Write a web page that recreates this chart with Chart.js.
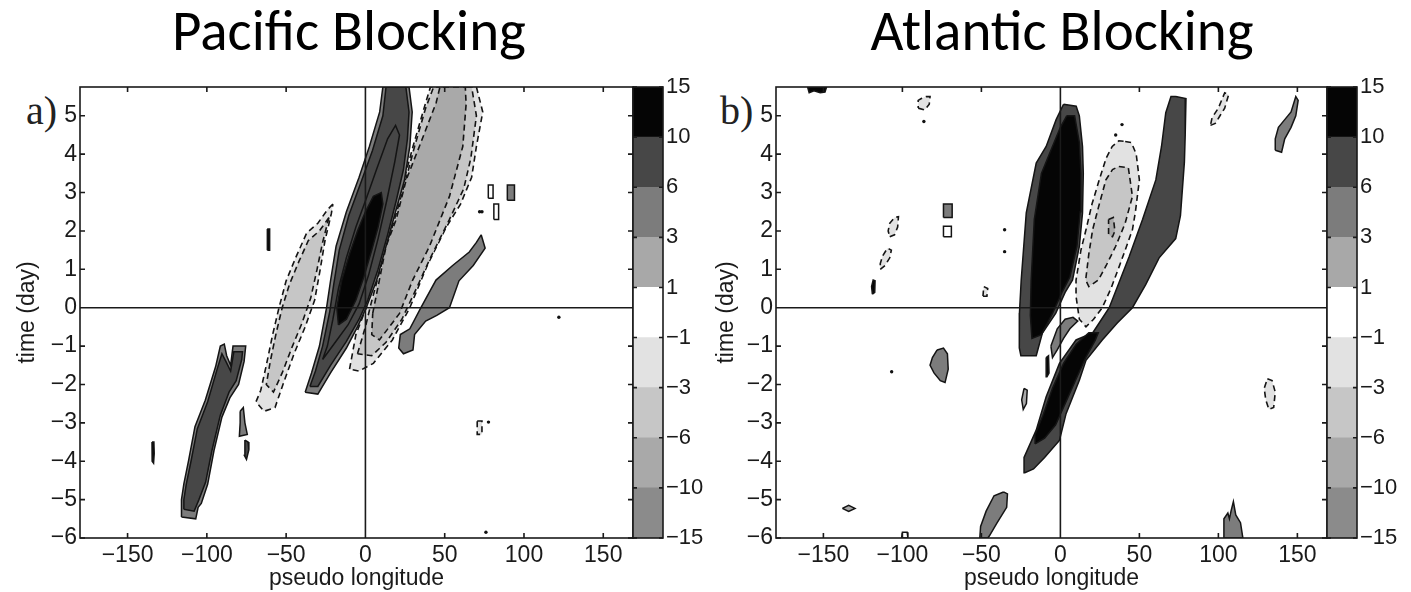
<!DOCTYPE html>
<html>
<head>
<meta charset="utf-8">
<script src="https://cdn.jsdelivr.net/npm/chart.js@4.4.1/dist/chart.umd.min.js"></script>
<style>
  body { margin: 0; width: 1411px; height: 592px; background: #fff; position: relative; overflow: hidden; }
  canvas { position: absolute; top: 0; }
  .title { position: absolute; top: 2px; font-family: Carlito, Lato, sans-serif; font-size: 57px; line-height: 1; text-align: center; color: #000; }
  .tag { position: absolute; top: 91px; font-family: "Liberation Serif", serif; font-size: 40px; line-height: 1; color: #222; }
</style>
</head>
<body>
<div class="title" style="left:0;width:698px">Pacific Blocking</div>
<div class="title" style="left:714px;width:696px">Atlantic Blocking</div>
<div class="tag" style="left:26px">a)</div>
<div class="tag" style="left:720px">b)</div>
<canvas id="pac" width="640" height="592" style="left:0"></canvas>
<canvas id="pacBar" width="80" height="592" style="left:627px"></canvas>
<canvas id="atl" width="638" height="592" style="left:696px"></canvas>
<canvas id="atlBar" width="90" height="592" style="left:1321px"></canvas>
<script>
// contour levels on the colour bars, bottom to top
const cbLevels = [-15, -10, -6, -3, -1, 1, 3, 6, 10, 15];
const bandColors = ['#8b8b8b', '#a9a9a9', '#c6c6c6', '#e2e2e2', '#ffffff', '#a8a8a8', '#7c7c7c', '#474747', '#050505'];
const xTicks = [-150, -100, -50, 0, 50, 100, 150];
const yTicks = [-6, -5, -4, -3, -2, -1, 0, 1, 2, 3, 4, 5];
const lonRange = [-180, 168.75];
const dayRange = [-6, 5.75];

// ---- Pacific composite: contour outlines as [pseudo longitude, day]
const pacWestRim = [[-116,-5.45],[-107,-5.5],[-105.5,-5.2],[-103.5,-5.1],[-99.5,-4.6],[-95.5,-3.72],[-90.5,-2.85],[-85.5,-2.35],[-80,-2.0],[-76.5,-1.4],[-75.5,-1.0],[-83.5,-1.0],[-85,-1.5],[-87.5,-1.25],[-89,-0.95],[-91.5,-1.0],[-94.5,-1.54],[-101,-2.41],[-107.5,-3.1],[-111.5,-3.98],[-114.5,-4.59],[-116,-5.0]];
const pacWestBand = [[-114.5,-5.25],[-108,-5.3],[-105,-5.0],[-100.8,-4.55],[-96.8,-3.72],[-91.5,-2.8],[-86,-2.2],[-81.5,-1.9],[-78,-1.35],[-77.5,-1.15],[-83,-1.15],[-85,-1.65],[-88,-1.4],[-90.5,-1.2],[-93.5,-1.6],[-99.5,-2.45],[-106,-3.15],[-110,-4.0],[-113,-4.6],[-114.5,-5.0]];
const pacNegWestOuter = [[-20.5,2.7],[-24,2.55],[-30,2.2],[-37,1.95],[-44,1.3],[-50,0.7],[-54.5,0],[-58.5,-0.7],[-62.5,-1.5],[-66,-2.15],[-69,-2.45],[-64,-2.7],[-57,-2.6],[-52,-2.0],[-45,-1.2],[-38,-0.5],[-32,0.2],[-28.5,1.0],[-25.5,1.75],[-21.5,2.45]];
const pacNegWestInner = [[-23,2.35],[-29,2.0],[-36,1.75],[-42,1.2],[-48,0.6],[-52.5,0],[-56.5,-0.7],[-60,-1.4],[-62.5,-2.0],[-58,-2.2],[-52.5,-1.7],[-46,-1.0],[-40,-0.4],[-34.5,0.25],[-30.5,1.0],[-27,1.7]];
const pacMainRim = [[-38,-2.2],[-30,-2.25],[-22,-1.7],[-12,-1.05],[-5,-0.5],[0.5,0],[7,0.7],[13,1.6],[19,2.5],[24.5,3.3],[28,4.2],[29.5,5.1],[27.5,5.75],[11,5.75],[9,5.1],[2.5,4.2],[-4,3.4],[-12,2.5],[-18.5,1.6],[-22,0.7],[-24.5,0],[-29,-1.0],[-34,-1.7]];
const pacMainOuter = [[-35,-2.05],[-30,-2.05],[-22,-1.5],[-12,-0.88],[-4,-0.3],[1.5,0.2],[8,1.0],[14,1.9],[19.5,2.8],[24,3.6],[26.5,4.4],[27.5,5.1],[25.5,5.75],[13,5.75],[11,5.0],[4.5,4.1],[-2.5,3.3],[-10.5,2.4],[-16.5,1.5],[-20,0.6],[-22.5,-0.1],[-27,-1.0],[-31.5,-1.65]];
const pacMainInner = [[-27,-1.35],[-19,-0.9],[-11,-0.45],[-4,0.1],[2,0.85],[8,1.8],[13.5,2.8],[18.5,3.8],[21.5,4.5],[19,4.75],[14,4.4],[7,3.6],[1,2.9],[-6,2.1],[-12,1.3],[-17,0.5],[-20.5,-0.3],[-24,-1.0]];
const pacMainCore = [[-17,-0.45],[-12,-0.3],[-6,0.2],[-1,0.8],[4,1.5],[8,2.1],[11,2.7],[10,3.0],[5,2.9],[0,2.5],[-5,2.0],[-10,1.4],[-15,0.7],[-18,0]];
const pacNegEastOuter = [[-10,-1.6],[-6,-0.7],[0.5,0],[4.6,0.72],[11,1.6],[21.5,2.9],[30,4.2],[37,5.2],[41,5.75],[70,5.75],[74,5.1],[70,4.2],[67,3.4],[60,2.7],[51,2.1],[39,1.1],[28,0],[17,-0.84],[5,-1.45],[-4,-1.65]];
const pacNegEastMid = [[-5,-1.2],[0,-0.5],[3.5,0.1],[8,0.8],[14,1.7],[23,2.95],[31,4.2],[38,5.2],[43,5.75],[67,5.75],[70,5.0],[66.5,3.9],[62,3.1],[53,2.3],[41,1.3],[31,0.4],[23,-0.3],[13,-0.9],[4,-1.25]];
const pacNegEastInner = [[4.6,-0.15],[8.8,0.72],[13,1.6],[19.4,2.3],[25.7,3.33],[34,4.2],[44.6,5.34],[47,5.75],[63,5.75],[63.5,5.3],[61.4,4.2],[53,2.9],[40.4,1.6],[29.8,0.72],[21.5,-0.15],[8.8,-0.84],[4,-0.7]];
const pacPosEast = [[73,1.9],[75.5,1.55],[68,1.1],[59,0.7],[53,0],[45,-0.2],[38,-0.35],[31,-0.7],[30,-1.1],[24,-1.2],[21,-1.05],[22,-0.7],[28,-0.55],[35,0],[44.5,0.72],[55,1.1],[65.5,1.45],[70,1.7]];
const pacSpotA = [[-61.8,1.5],[-60.4,1.5],[-60.2,1.8],[-60.6,2.05],[-61.5,2.05],[-61.9,1.8]];
const pacSpotB = [[-134.6,-3.5],[-133.4,-3.5],[-133.2,-3.8],[-133.6,-4.05],[-134.5,-4.0]];
const pacSpotC = [[-79,-2.7],[-77,-2.6],[-76,-3.0],[-74.5,-3.3],[-79.5,-3.35],[-79,-3.0]];
const pacSpotD = [[-76,-3.45],[-74,-3.5],[-73.5,-3.7],[-75,-3.95],[-76.3,-3.85]];
const pacRingA = [[77.5,2.85],[80.5,2.85],[80.5,3.2],[77.5,3.2]];
const pacRingB = [[81,2.3],[84,2.3],[84,2.7],[81,2.7]];
const pacBox = [[89.5,2.8],[94,2.8],[94,3.2],[89.5,3.2]];
const pacNegSpot = [[70.5,-2.95],[73.5,-2.95],[73.5,-3.3],[70.5,-3.3]];
const pacDots = [[72,2.5],[73.5,2.5],[122,-0.25],[77.6,-2.98],[76,-5.85]];

// ---- Atlantic composite
const atlBlackRim = [[2,5.3],[-2.7,4.9],[-9,4.2],[-15.3,3.77],[-21.6,2.47],[-24.8,0.72],[-25.9,-0.14],[-26,-1.05],[-25,-1.25],[-15.3,-1.25],[-11.4,-0.66],[-3,-0.15],[3,0.4],[7.7,0.72],[12,1.6],[14,2.47],[14.5,3.5],[14,4.2],[12,5.0],[10,5.25]];
const atlBlackCore = [[4,5.0],[0,4.7],[-6,4.1],[-12,3.5],[-16.5,2.3],[-18.5,0.7],[-19,-0.2],[-18,-0.8],[-12,-0.7],[-5,-0.15],[1,0.4],[6,0.8],[10.5,1.6],[12.5,2.5],[13,3.5],[12,4.3],[9,5.0]];
const atlNegOuter = [[41,4.33],[45,4.3],[48,4.0],[50,3.33],[47.5,2.5],[45.6,2.03],[41,1.5],[37.2,1.07],[32,0.5],[26.5,0],[21,-0.3],[16.2,-0.5],[12,-0.3],[9.9,0.3],[9.9,0.72],[13,1.5],[16.2,2.03],[20,2.7],[24.6,3.33],[29,3.9],[32.8,4.2],[37,4.35]];
const atlNegMid = [[37,3.68],[43,3.65],[45.6,2.9],[41,2.2],[35,1.6],[29,1.1],[24,0.72],[18,0.55],[16,0.72],[18,1.4],[20.4,2.03],[24,2.6],[28.8,3.33],[33,3.6]];
const atlNegInner = [[30.5,2.3],[33.5,2.35],[34.5,2.0],[33,1.85],[30.5,1.9]];
const atlPosMid = [[-6,-1.0],[-2,-0.55],[3,-0.3],[8,-0.25],[11,-0.35],[6,-0.55],[2,-0.8],[-2,-1.1],[-5,-1.3]];
const atlBandRim = [[73,5.5],[79.5,5.45],[79,4.5],[78.5,3.8],[76,2.4],[73,1.8],[62.5,1.3],[54,0.6],[45.6,0],[36,-0.4],[26.5,-0.84],[16.2,-1.37],[12,-1.89],[3.6,-2.76],[-0.6,-3.46],[-10,-3.9],[-17,-4.2],[-22.5,-4.3],[-23,-3.9],[-15.3,-3.19],[-9,-2.32],[-0.6,-1.45],[9.9,-0.84],[20.4,-0.66],[30.9,0],[43.5,1.33],[52,2.3],[60.4,3.33],[64,4.2],[66.7,5.08],[70,5.5]];
const atlBandCore = [[-16,-3.55],[-10,-3.4],[-3,-3.05],[3,-2.5],[10,-1.85],[16,-1.3],[22,-0.85],[24,-0.65],[18,-0.65],[10,-0.95],[2,-1.45],[-5,-2.1],[-11,-2.8],[-16,-3.3]];
const atlTopLeft = [[-160,5.75],[-148,5.75],[-149,5.62],[-152,5.6],[-156,5.65],[-159,5.6]];
const atlNegA = [[-90,5.2],[-86,5.15],[-83,5.3],[-82.5,5.5],[-85,5.5],[-88,5.45],[-90,5.4]];
const atlNegB = [[-108,1.85],[-105,1.9],[-103,2.1],[-102.5,2.37],[-105,2.35],[-108,2.2],[-109,2.0]];
const atlNegC = [[-114,1.0],[-111,1.1],[-108,1.3],[-107,1.5],[-109.5,1.55],[-112.5,1.35],[-114,1.15]];
const atlSpotA = [[-119,0.35],[-117.5,0.4],[-117.3,0.7],[-118.5,0.72],[-119.5,0.55]];
const atlBoxA = [[-74,2.35],[-68.5,2.35],[-68.5,2.7],[-74,2.7]];
const atlBoxB = [[-74,1.85],[-69,1.85],[-69,2.12],[-74,2.12]];
const atlNegD = [[-49,0.3],[-46.5,0.3],[-46,0.5],[-48.5,0.55]];
const atlPatchA = [[-78,-1.1],[-74,-1.05],[-71.5,-1.2],[-71,-1.6],[-73,-1.95],[-76,-1.9],[-80,-1.7],[-82.5,-1.5],[-81,-1.3]];
const atlPatchB = [[-23,-2.1],[-21,-2.15],[-21.5,-2.5],[-23.5,-2.65],[-24.5,-2.4]];
const atlPatchC = [[-36,-4.8],[-33.5,-4.85],[-34,-5.2],[-40,-5.6],[-45,-5.95],[-46,-6],[-51,-6],[-50.5,-5.7],[-47,-5.3],[-42,-4.9]];
const atlPatchD = [[-138,-5.23],[-134,-5.15],[-130,-5.23],[-134,-5.31]];
const atlPatchE = [[-100.5,-6],[-100,-5.85],[-97,-5.85],[-96.5,-6]];
const atlSpotB = [[-9,-1.3],[-7.5,-1.25],[-7.2,-1.7],[-8.5,-1.8]];
const atlNegE = [[95,4.75],[98,4.8],[101,5.0],[104,5.2],[106.5,5.55],[104,5.6],[100,5.2],[96,4.95]];
const atlPatchF = [[136,4.1],[140,4.05],[142,4.4],[146,4.7],[149,5.0],[150.5,5.4],[149,5.5],[146,5.1],[142,4.9],[138,4.7],[136,4.4]];
const atlNegF = [[131,-1.85],[134,-1.9],[136,-2.2],[135,-2.6],[132,-2.65],[130,-2.4],[129,-2.1]];
const atlPatchG = [[103,-6],[103.5,-5.5],[106,-5.35],[107,-5.5],[108,-5.3],[109.5,-5.05],[111,-5.4],[114,-5.6],[115.5,-6]];
const atlDots = [[-86.4,4.85],[-35.3,2.03],[-35.3,1.46],[-106.8,-1.67],[39,4.77],[35,4.5]];

// [outline, contour level]; later entries sit on top
const pacShapes = [
  [pacWestRim, 3], [pacWestBand, 6],
  [pacNegWestOuter, -1], [pacNegWestInner, -3],
  [pacNegEastOuter, -1], [pacNegEastMid, -3], [pacNegEastInner, -6],
  [pacMainRim, 3], [pacMainOuter, 6], [pacMainInner, 6], [pacMainCore, 10],
  [pacPosEast, 3],
  [pacSpotA, 10], [pacSpotB, 10], [pacSpotC, 3], [pacSpotD, 6],
  [pacRingA, 0], [pacRingB, 0], [pacBox, 3], [pacNegSpot, -1]
];
const atlShapes = [
  [atlBandRim, 6], [atlBandCore, 10],
  [atlBlackRim, 6], [atlBlackCore, 10],
  [atlNegOuter, -1], [atlNegMid, -3], [atlNegInner, -6],
  [atlPosMid, 3],
  [atlTopLeft, 10], [atlNegA, -1], [atlNegB, -1], [atlNegC, -1], [atlSpotA, 10],
  [atlBoxA, 3], [atlBoxB, 0], [atlNegD, -1], [atlPatchA, 3], [atlPatchB, 1],
  [atlPatchC, 3], [atlPatchD, 1], [atlPatchE, 0], [atlSpotB, 10],
  [atlNegE, -1], [atlPatchF, 3], [atlNegF, -1], [atlPatchG, 3]
];

Chart.defaults.font.family = "'Liberation Sans', Arial, sans-serif";
Chart.defaults.color = '#1a1a1a';

const fmt = v => (v < 0 ? '\u2212' + Math.abs(v) : String(v));

// fill colour of the band enclosed by a contour (0 = outline only)
function levelColor(level) {
  if (level === 0) return bandColors[4];
  const i = cbLevels.indexOf(level);
  return bandColors[level > 0 ? i : i - 1];
}

// box, zero lines and inward ticks, matlab style
const frame = {
  id: 'frame',
  afterDatasetsDraw(chart) {
    const { ctx, chartArea: a, scales: { x, y } } = chart;
    ctx.save();
    ctx.strokeStyle = '#1a1a1a';
    ctx.lineWidth = 1.6;
    const x0 = x.getPixelForValue(0), y0 = y.getPixelForValue(0);
    ctx.beginPath();
    ctx.moveTo(a.left, y0); ctx.lineTo(a.right, y0);
    ctx.moveTo(x0, a.top); ctx.lineTo(x0, a.bottom);
    x.ticks.forEach(t => {
      const p = x.getPixelForValue(t.value);
      ctx.moveTo(p, a.bottom); ctx.lineTo(p, a.bottom - 5);
      ctx.moveTo(p, a.top); ctx.lineTo(p, a.top + 5);
    });
    y.ticks.forEach(t => {
      const p = y.getPixelForValue(t.value);
      ctx.moveTo(a.left, p); ctx.lineTo(a.left + 5, p);
      ctx.moveTo(a.right, p); ctx.lineTo(a.right - 5, p);
    });
    ctx.stroke();
    ctx.strokeRect(a.left, a.top, a.width, a.height);
    ctx.restore();
  }
};

const barFrame = {
  id: 'barFrame',
  afterDatasetsDraw(chart) {
    const { ctx, chartArea: a, scales: { y } } = chart;
    ctx.save();
    ctx.strokeStyle = '#1a1a1a';
    ctx.lineWidth = 1.6;
    ctx.beginPath();
    y.ticks.forEach(t => {
      const p = y.getPixelForValue(t.value);
      ctx.moveTo(a.left, p); ctx.lineTo(a.left + 4, p);
      ctx.moveTo(a.right, p); ctx.lineTo(a.right - 4, p);
    });
    ctx.stroke();
    ctx.strokeRect(a.left, a.top, a.width, a.height);
    ctx.restore();
  }
};

function contourChart(id, shapes, dots, titlePad) {
  const n = shapes.length;
  const datasets = shapes.map(([pts, level], i) => ({
    data: pts.concat([pts[0]]),
    showLine: true,
    fill: 'shape',
    backgroundColor: levelColor(level),
    borderColor: '#141414',
    borderWidth: level < 0 ? 1.6 : 1.5,
    borderDash: level < 0 ? [6, 4] : [],
    pointRadius: 0,
    order: n - i + 1
  }));
  datasets.push({ data: dots, pointRadius: 1.7, backgroundColor: '#111', borderWidth: 0, order: 0 });

  return new Chart(document.getElementById(id), {
    type: 'scatter',
    data: { datasets },
    options: {
      responsive: false,
      animation: false,
      events: [],
      layout: { padding: { left: 0, top: 87, right: 7, bottom: 0 } },
      plugins: { legend: { display: false }, tooltip: { enabled: false } },
      scales: {
        x: {
          type: 'linear', min: lonRange[0], max: lonRange[1],
          afterBuildTicks: s => { s.ticks = xTicks.map(value => ({ value })); },
          afterFit: s => { s.height = 54; },
          grid: { display: false, drawTicks: false },
          border: { display: false },
          ticks: { padding: 4, font: { size: 23 }, callback: v => fmt(v) },
          title: { display: true, text: 'pseudo longitude', font: { size: 23 }, padding: { top: 0, bottom: 0 } }
        },
        y: {
          type: 'linear', min: dayRange[0], max: dayRange[1],
          afterBuildTicks: s => { s.ticks = yTicks.map(value => ({ value })); },
          afterFit: s => { s.width = 80; },
          grid: { display: false, drawTicks: false },
          border: { display: false },
          ticks: { padding: 3, font: { size: 23 }, callback: v => fmt(v) },
          title: { display: true, text: 'time (day)', font: { size: 23 }, padding: { top: titlePad, bottom: 0 } }
        }
      }
    },
    plugins: [frame]
  });
}

function colourBar(id, axisWidth) {
  return new Chart(document.getElementById(id), {
    type: 'bar',
    data: {
      labels: [''],
      datasets: bandColors.map(c => ({
        data: [1], backgroundColor: c, borderWidth: 0, barPercentage: 1, categoryPercentage: 1
      }))
    },
    options: {
      responsive: false,
      animation: false,
      events: [],
      layout: { padding: { left: 6, top: 87, right: 0, bottom: 54 } },
      plugins: { legend: { display: false }, tooltip: { enabled: false } },
      scales: {
        x: { display: false, stacked: true },
        y: {
          stacked: true, position: 'right', min: 0, max: cbLevels.length - 1,
          afterBuildTicks: s => { s.ticks = cbLevels.map((v, i) => ({ value: i })); },
          afterFit: s => { s.width = axisWidth; },
          grid: { display: false, drawTicks: false },
          border: { display: false },
          ticks: { padding: 3, font: { size: 22 }, callback: v => fmt(cbLevels[v]) }
        }
      }
    },
    plugins: [barFrame]
  });
}

contourChart('pac', pacShapes, pacDots, 14);
colourBar('pacBar', 44);
contourChart('atl', atlShapes, atlDots, 17);
colourBar('atlBar', 54);
</script>
</body>
</html>
